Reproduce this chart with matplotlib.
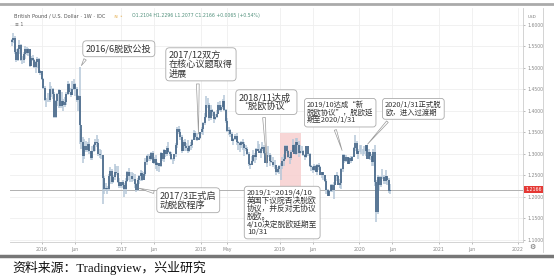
import matplotlib
matplotlib.use("Agg")
import matplotlib.pyplot as plt
import pandas as pd

# weekly GBP/USD bars (Friday closes), Aug 2015 - May 2020
first_open = 1.5615
close = [
    # 2015
    1.564, 1.570, 1.538, 1.518, 1.543, 1.553, 1.519, 1.518, 1.533, 1.545,
    1.534, 1.543, 1.505, 1.523, 1.519, 1.502, 1.513, 1.522, 1.489, 1.492,
    # 2016
    1.474, 1.454, 1.425, 1.426, 1.425, 1.450, 1.450, 1.440, 1.387, 1.423,
    1.440, 1.448, 1.412, 1.423, 1.413, 1.420, 1.440, 1.462, 1.444, 1.437,
    1.450, 1.462, 1.451, 1.425, 1.436, 1.368, 1.328, 1.295, 1.319, 1.310,
    1.323, 1.308, 1.290, 1.308, 1.320, 1.327, 1.326, 1.299, 1.297, 1.298,
    1.243, 1.219, 1.221, 1.218, 1.249, 1.260, 1.235, 1.247, 1.259, 1.256,
    1.236, 1.225, 1.234,
    # 2017
    1.227, 1.218, 1.237, 1.257, 1.248, 1.248, 1.241, 1.241, 1.230, 1.217,
    1.240, 1.248, 1.255, 1.240, 1.253, 1.281, 1.295, 1.296, 1.288, 1.303,
    1.280, 1.289, 1.274, 1.278, 1.272, 1.303, 1.288, 1.310, 1.299, 1.313,
    1.304, 1.301, 1.288, 1.288, 1.299, 1.320, 1.359, 1.350, 1.340, 1.306,
    1.329, 1.319, 1.313, 1.308, 1.319, 1.322, 1.333, 1.348, 1.339, 1.332,
    1.338, 1.351,
    # 2018
    1.357, 1.372, 1.387, 1.415, 1.413, 1.383, 1.402, 1.397, 1.381, 1.385,
    1.394, 1.414, 1.402, 1.409, 1.424, 1.402, 1.377, 1.354, 1.355, 1.347,
    1.331, 1.334, 1.341, 1.327, 1.326, 1.320, 1.328, 1.324, 1.313, 1.311,
    1.300, 1.276, 1.274, 1.284, 1.297, 1.293, 1.312, 1.308, 1.303, 1.312,
    1.316, 1.303, 1.280, 1.297, 1.297, 1.283, 1.281, 1.274, 1.274, 1.258,
    1.264, 1.271,
    # 2019
    1.272, 1.284, 1.288, 1.319, 1.307, 1.294, 1.290, 1.305, 1.320, 1.301,
    1.329, 1.321, 1.303, 1.307, 1.308, 1.297, 1.292, 1.318, 1.300, 1.272,
    1.270, 1.262, 1.272, 1.259, 1.274, 1.270, 1.252, 1.257, 1.250, 1.238,
    1.216, 1.203, 1.214, 1.228, 1.216, 1.229, 1.250, 1.248, 1.229, 1.233,
    1.266, 1.298, 1.283, 1.294, 1.277, 1.290, 1.283, 1.293, 1.315, 1.326,
    1.301, 1.308,
    # 2020
    1.308, 1.307, 1.307, 1.308, 1.320, 1.289, 1.304, 1.295, 1.282, 1.305,
    1.234, 1.165, 1.246, 1.227, 1.246, 1.247, 1.237, 1.249, 1.240, 1.213,
    1.217,
]
high = [
    1.568, 1.582, 1.574, 1.543, 1.546, 1.566, 1.556, 1.528, 1.538, 1.550,
    1.549, 1.546, 1.545, 1.527, 1.530, 1.522, 1.517, 1.525, 1.523, 1.496,
    1.494, 1.476, 1.458, 1.431, 1.441, 1.467, 1.457, 1.454, 1.444, 1.426,
    1.442, 1.452, 1.448, 1.445, 1.428, 1.432, 1.443, 1.470, 1.465, 1.454,
    1.469, 1.474, 1.466, 1.456, 1.438, 1.502, 1.359, 1.340, 1.335, 1.330,
    1.329, 1.337, 1.308, 1.318, 1.324, 1.335, 1.343, 1.334, 1.312, 1.309,
    1.297, 1.249, 1.233, 1.226, 1.253, 1.270, 1.266, 1.251, 1.276, 1.273,
    1.272, 1.243, 1.236,
    1.240, 1.232, 1.245, 1.260, 1.267, 1.259, 1.259, 1.256, 1.254, 1.233,
    1.245, 1.252, 1.262, 1.260, 1.257, 1.290, 1.298, 1.299, 1.299, 1.305,
    1.306, 1.293, 1.298, 1.281, 1.278, 1.305, 1.303, 1.311, 1.310, 1.318,
    1.327, 1.307, 1.305, 1.290, 1.299, 1.325, 1.362, 1.366, 1.357, 1.345,
    1.333, 1.334, 1.325, 1.332, 1.322, 1.327, 1.335, 1.355, 1.353, 1.349,
    1.340, 1.352,
    1.362, 1.374, 1.396, 1.434, 1.430, 1.419, 1.414, 1.405, 1.399, 1.393,
    1.402, 1.420, 1.424, 1.414, 1.427, 1.438, 1.404, 1.384, 1.362, 1.358,
    1.350, 1.338, 1.347, 1.348, 1.331, 1.328, 1.330, 1.336, 1.327, 1.321,
    1.316, 1.304, 1.280, 1.296, 1.310, 1.302, 1.315, 1.330, 1.323, 1.315,
    1.327, 1.320, 1.306, 1.304, 1.318, 1.303, 1.297, 1.292, 1.286, 1.275,
    1.269, 1.275,
    1.278, 1.292, 1.300, 1.322, 1.322, 1.310, 1.299, 1.310, 1.335, 1.323,
    1.338, 1.338, 1.330, 1.320, 1.318, 1.309, 1.299, 1.318, 1.318, 1.302,
    1.275, 1.271, 1.276, 1.275, 1.276, 1.278, 1.273, 1.259, 1.256, 1.252,
    1.241, 1.219, 1.216, 1.230, 1.231, 1.236, 1.252, 1.258, 1.251, 1.241,
    1.268, 1.301, 1.301, 1.297, 1.294, 1.292, 1.296, 1.296, 1.316, 1.345,
    1.330, 1.312,
    1.320, 1.321, 1.311, 1.318, 1.321, 1.321, 1.312, 1.305, 1.301, 1.311,
    1.320, 1.240, 1.250, 1.249, 1.249, 1.265, 1.250, 1.262, 1.247, 1.245,
    1.230,
]
low = [
    1.551, 1.558, 1.533, 1.515, 1.517, 1.533, 1.516, 1.509, 1.511, 1.520,
    1.530, 1.528, 1.503, 1.505, 1.517, 1.500, 1.488, 1.500, 1.488, 1.483,
    1.472, 1.451, 1.424, 1.409, 1.420, 1.420, 1.433, 1.428, 1.384, 1.384,
    1.412, 1.407, 1.408, 1.408, 1.401, 1.410, 1.413, 1.437, 1.440, 1.433,
    1.437, 1.448, 1.436, 1.420, 1.401, 1.323, 1.312, 1.280, 1.288, 1.305,
    1.305, 1.300, 1.285, 1.287, 1.305, 1.307, 1.317, 1.296, 1.291, 1.289,
    1.184, 1.208, 1.215, 1.206, 1.214, 1.230, 1.230, 1.232, 1.240, 1.251,
    1.233, 1.222, 1.222,
    1.220, 1.199, 1.207, 1.234, 1.239, 1.234, 1.235, 1.238, 1.220, 1.211,
    1.213, 1.231, 1.238, 1.237, 1.239, 1.248, 1.275, 1.283, 1.284, 1.285,
    1.279, 1.276, 1.264, 1.261, 1.259, 1.269, 1.284, 1.281, 1.292, 1.296,
    1.303, 1.295, 1.285, 1.277, 1.284, 1.294, 1.313, 1.346, 1.332, 1.303,
    1.306, 1.308, 1.306, 1.302, 1.304, 1.309, 1.315, 1.332, 1.333, 1.330,
    1.332, 1.334,
    1.347, 1.344, 1.368, 1.383, 1.407, 1.377, 1.379, 1.388, 1.371, 1.378,
    1.383, 1.393, 1.399, 1.397, 1.405, 1.399, 1.371, 1.351, 1.344, 1.340,
    1.330, 1.321, 1.333, 1.322, 1.310, 1.305, 1.313, 1.310, 1.296, 1.307,
    1.297, 1.273, 1.266, 1.276, 1.282, 1.280, 1.287, 1.306, 1.302, 1.290,
    1.306, 1.300, 1.278, 1.270, 1.293, 1.272, 1.279, 1.270, 1.266, 1.251,
    1.255, 1.253,
    1.239, 1.266, 1.273, 1.285, 1.303, 1.290, 1.277, 1.285, 1.304, 1.300,
    1.298, 1.300, 1.294, 1.300, 1.302, 1.295, 1.286, 1.290, 1.295, 1.270,
    1.261, 1.255, 1.260, 1.258, 1.250, 1.262, 1.251, 1.243, 1.239, 1.236,
    1.208, 1.202, 1.205, 1.211, 1.212, 1.196, 1.228, 1.237, 1.228, 1.220,
    1.219, 1.258, 1.280, 1.281, 1.276, 1.280, 1.279, 1.284, 1.293, 1.306,
    1.300, 1.289,
    1.304, 1.301, 1.296, 1.300, 1.296, 1.288, 1.289, 1.285, 1.273, 1.273,
    1.225, 1.141, 1.160, 1.215, 1.224, 1.241, 1.230, 1.230, 1.227, 1.209,
    1.208,
]
last_price = 1.2166
price_ticks = [1.10, 1.15, 1.20, 1.25, 1.30, 1.35, 1.40, 1.45, 1.50, 1.55, 1.60]
time_ticks = ["2016-01-01", "2016-06-01", "2017-01-01", "2017-06-01", "2018-01-01",
              "2018-05-01", "2019-01-01", "2019-06-01", "2020-01-01", "2020-06-01",
              "2021-01-01", "2021-06-01", "2022-01-01"]
time_labels = ["2016", "Jun", "2017", "Jun", "2018", "May", "2019", "Jun", "2020",
               "Jun", "2021", "Jun", "2022"]

notes = [
    ("2016/6脱欧公投", "2016-06-24", 1.500),
    ("2017/12双方\n在核心议题取得\n进展", "2017-12-22", 1.340),
    ("2018/11达成\n“脱欧协议”", "2018-11-02", 1.272),
    ("2019/10达成“新\n脱欧协议”，脱欧延\n期至2020/1/31", "2019-10-18", 1.302),
    ("2020/1/31正式脱\n欧，进入过渡期", "2020-01-31", 1.318),
    ("2017/3正式启\n动脱欧程序", "2017-03-10", 1.222),
]
note_2019 = "2019/1~2019/4/10\n英国下议院否决脱欧\n协议，并反对无协议\n脱欧。\n4/10决定脱欧延期至\n10/31"
shade_start, shade_end = "2019-01-01", "2019-04-10"
shade_low, shade_high = 1.221, 1.349

W, H = 554, 280
cjk = ["Noto Sans CJK SC", "DejaVu Sans"]

def fx(px):
    return px / W

def fy(py):
    return 1 - py / H

dates = pd.date_range("2015-08-14", periods=len(close), freq="W-FRI")
opens = [first_open] + close[:-1]

fig = plt.figure(figsize=(W / 100, H / 100), dpi=100)
ax = fig.add_axes([fx(10), fy(242), fx(523) - fx(10), fy(8) - fy(242)])

ax.set_xlim(pd.Timestamp("2015-08-07"), pd.Timestamp("2022-01-24"))
ax.set_ylim(1.0953, 1.6395)

# grid
for t in time_ticks:
    ax.axvline(pd.Timestamp(t), color="#efefef", lw=0.6, zorder=0)
for p in price_ticks:
    ax.axhline(p, color="#efefef", lw=0.6, zorder=0)

# shaded Jan-Apr 2019 window
ax.fill_between([pd.Timestamp(shade_start), pd.Timestamp(shade_end)], shade_low, shade_high,
                color="#f7cfcf", alpha=0.85, lw=0, zorder=1)

# candles
ax.vlines(dates, low, high, color="#b5c7d9", lw=1.1, zorder=2)
ax.vlines(dates, opens, close, color="#4b6b8b", lw=1.25, zorder=3)

ax.axhline(last_price, color="#b0b0b0", lw=0.7, zorder=1.5)

ax.set_xticks([pd.Timestamp(t) for t in time_ticks])
ax.set_xticklabels(time_labels)
ax.yaxis.tick_right()
ax.set_yticks(price_ticks)
ax.set_yticklabels(["%.4f" % p for p in price_ticks])
ax.tick_params(axis="both", labelsize=3.3, colors="#888888", length=1.5, width=0.4, pad=2)
for s in ["top", "left"]:
    ax.spines[s].set_visible(False)
for s in ["bottom", "right"]:
    ax.spines[s].set_color("#cccccc")
    ax.spines[s].set_linewidth(0.6)

# current price tag
ax.text(1.004, last_price, "1.2166", transform=ax.get_yaxis_transform(), fontsize=3.3,
        color="white", va="center", ha="left",
        bbox=dict(boxstyle="square,pad=0.25", fc="#e53935", ec="none"))

box = dict(boxstyle="round,pad=0.35,rounding_size=0.4", fc="white", ec="#aaaaaa", lw=0.6)
# box top-left corner (px), font size, where the tail leaves the box
places = [(86, 44, 6.6, (0.04, 0.0)), (169, 51, 6.6, (0.45, 0.0)), (239, 93, 6.6, (0.45, 0.0)),
          (307, 101, 5.3, (0.4, 0.0)), (385, 101, 5.3, (0.12, 0.0)), (160, 191, 6.6, (0.0, 0.85))]
for (txt, d, p), (px, py, fs, rp) in zip(notes, places):
    ax.annotate(txt, xy=(pd.Timestamp(d), p), xycoords="data",
                xytext=(fx(px), fy(py)), textcoords="figure fraction",
                ha="left", va="top", fontsize=fs, family=cjk, color="#333333",
                linespacing=0.95, bbox=box, zorder=6,
                arrowprops=dict(arrowstyle="wedge,tail_width=0.3,shrink_factor=0.5",
                                fc="white", ec="#999999", lw=0.5, relpos=rp))
fig.text(fx(247), fy(189), note_2019, ha="left", va="top", fontsize=5.6, family=cjk,
         color="#333333", linespacing=0.95, bbox=box, zorder=6)

# tradingview header
fig.text(fx(14), fy(16), "British Pound / U.S. Dollar · 1W · IDC", fontsize=3.6,
         color="#555555", va="center")
fig.text(fx(114), fy(16), "≈ ◦", fontsize=3.6, color="#e0a030", va="center")
fig.text(fx(132), fy(16), "O1.2104 H1.2296 L1.2077 C1.2166 +0.0065 (+0.54%)", fontsize=3.3,
         color="#4f8f7a", va="center")
fig.text(fx(15), fy(24), "≡ 1", fontsize=3.3, color="#666666", va="center")
fig.text(fx(528), fy(17), "USD", fontsize=3.0, color="#777777", va="center")
fig.text(fx(532), fy(247), "⚙", fontsize=5, color="#666666", va="center", ha="center")

# frame lines
fig.add_artist(plt.Line2D([fx(543), fx(543)], [fy(8), fy(252)], color="#cccccc", lw=0.6))
fig.add_artist(plt.Line2D([0, 1], [fy(4), fy(4)], color="#aaaaaa", lw=2))
fig.add_artist(plt.Line2D([0, 1], [fy(256), fy(256)], color="#777777", lw=2.5))

fig.text(fx(12), fy(268), "资料来源：Tradingview，兴业研究", fontsize=9.3,
         family=["Liberation Serif", "Noto Sans CJK SC"], color="#111111", va="center")

fig.savefig("out.png", dpi=100)
